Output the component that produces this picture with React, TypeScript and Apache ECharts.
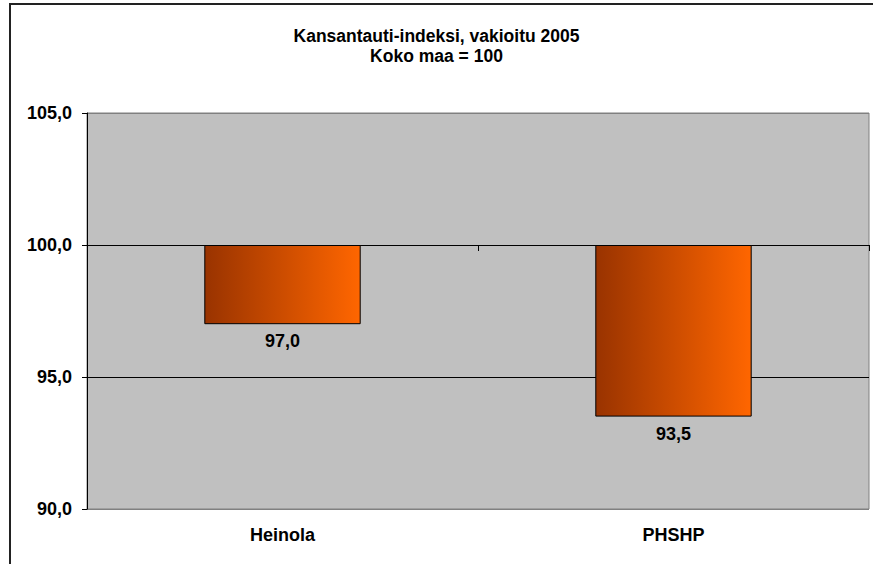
import React, { useEffect, useRef } from "react";
import * as echarts from "echarts";

const categories = ["Heinola", "PHSHP"];
const values = [97.0, 93.5];
const baseline = 100;
const titleLines = ["Kansantauti-indeksi, vakioitu 2005", "Koko maa = 100"];
const yMin = 90;
const yMax = 105;
const yInterval = 5;

const fmt = (v: number) => v.toFixed(1).replace(".", ",");

export default function App() {
  const ref = useRef<HTMLDivElement>(null);
  useEffect(() => {
    if (!ref.current) return;
    const chart = echarts.init(ref.current, undefined, { renderer: "svg" });
    const font = "Liberation Sans, Arial, sans-serif";
    const fs = 18;
    chart.setOption({
      animation: false,
      textStyle: { fontFamily: font },
      title: {
        text: titleLines.join("\n"),
        left: "center",
        top: 21,
        textStyle: { fontSize: 17.5, fontWeight: "bold", color: "#000", lineHeight: 20, fontFamily: font },
      },
      grid: {
        left: 87,
        top: 113,
        right: 4,
        bottom: 55,
        show: true,
        backgroundColor: "#C0C0C0",
        borderColor: "#808080",
        borderWidth: 1,
      },
      xAxis: [
        {
          type: "category",
          data: categories,
          axisLine: { show: false },
          axisTick: { show: false },
          axisLabel: { margin: 17, fontSize: fs, fontWeight: "bold", color: "#000", fontFamily: font },
        },
        {
          type: "category",
          data: categories,
          position: "bottom",
          offset: -((baseline - yMin) / (yMax - yMin)) * (564 - 113 - 55),
          axisLine: { show: false },
          axisTick: { show: true, length: 6, lineStyle: { color: "#000" } },
          axisLabel: { show: false },
        },
      ],
      yAxis: {
        type: "value",
        min: yMin,
        max: yMax,
        interval: yInterval,
        axisLine: { show: true, lineStyle: { color: "#000" } },
        axisTick: { show: true, length: 5, lineStyle: { color: "#000" } },
        axisLabel: {
          margin: 15,
          fontSize: fs,
          fontWeight: "bold",
          color: "#000",
          fontFamily: font,
          formatter: (v: number) => fmt(v),
        },
        splitLine: {
          show: true,
          lineStyle: { color: ["#808080", "#000", "#000", "#808080"], width: 1 },
        },
      },
      series: [
        {
          type: "bar",
          stack: "s",
          data: values,
          barWidth: "40%",
          itemStyle: { color: "rgba(0,0,0,0)" },
          silent: true,
        },
        {
          type: "bar",
          stack: "s",
          data: values.map((v) => baseline - v),
          barWidth: "40%",
          itemStyle: {
            color: new echarts.graphic.LinearGradient(0, 0, 1, 0, [
              { offset: 0, color: "#993300" },
              { offset: 1, color: "#FF6600" },
            ]),
            borderColor: "#000",
            borderWidth: 1,
          },
          label: {
            show: true,
            position: "bottom",
            distance: 8,
            fontSize: fs,
            fontWeight: "bold",
            color: "#000",
            fontFamily: font,
            formatter: (p: any) => fmt(values[p.dataIndex]),
          },
        },
      ],
    });
    return () => chart.dispose();
  }, []);
  return (
    <div style={{ position: "fixed", left: 0, top: 0, width: 873, height: 564, overflow: "hidden", background: "#fff" }}>
      <div
        style={{
          position: "absolute",
          left: 9,
          top: 3,
          width: 900,
          height: 600,
          borderLeft: "2px solid #222",
          borderTop: "2px solid #222",
          boxSizing: "border-box",
        }}
      />
      <div ref={ref} style={{ position: "absolute", left: 0, top: 0, width: 873, height: 564 }} />
    </div>
  );
}
